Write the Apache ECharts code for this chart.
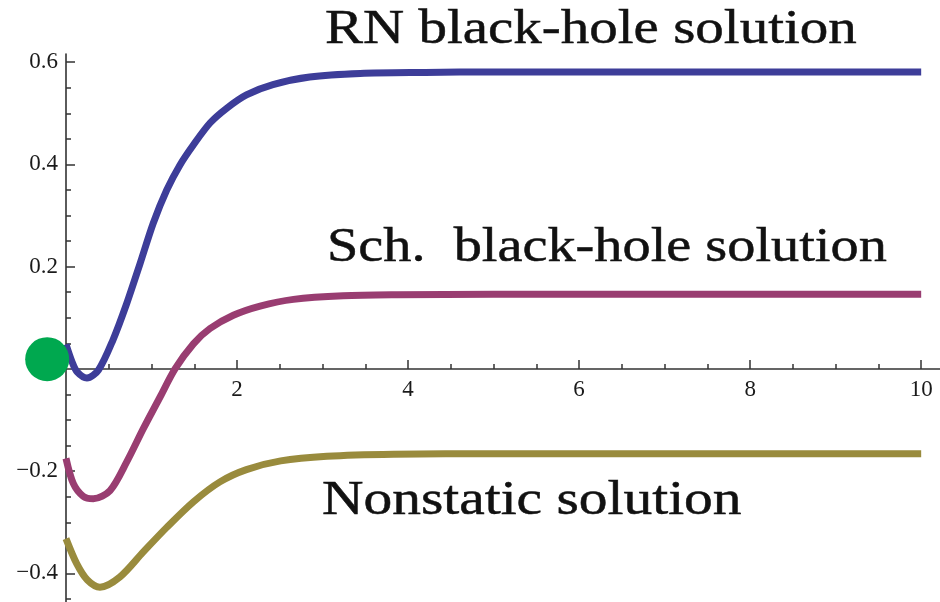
<!DOCTYPE html>
<html>
<head>
<meta charset="utf-8">
<script src="https://cdn.jsdelivr.net/npm/echarts@6/dist/echarts.min.js"></script>
<style>
  html, body { margin: 0; padding: 0; background: #fff; }
  #chart { width: 940px; height: 602px; }
</style>
</head>
<body>
<div id="chart"></div>
<script>
// Solution profiles: [x, value] pairs along each curve
const rnSolution = [
  [0, 0.048], [0.07, 0.014], [0.13, -0.006], [0.245, -0.018], [0.38, -0.002],
  [0.55, 0.057], [0.71, 0.128], [0.866, 0.206], [1.02, 0.285], [1.178, 0.35],
  [1.333, 0.399], [1.489, 0.438], [1.684, 0.481], [1.88, 0.51], [2.11, 0.536],
  [2.42, 0.556], [2.85, 0.571], [3.44, 0.578], [4.2, 0.58], [5, 0.581],
  [6, 0.581], [7, 0.581], [8, 0.581], [9, 0.581], [10, 0.581]
];
const schSolution = [
  [0, -0.175], [0.085, -0.224], [0.2, -0.249], [0.32, -0.254], [0.515, -0.238],
  [0.71, -0.182], [0.904, -0.117], [1.1, -0.055], [1.275, 0], [1.49, 0.049],
  [1.684, 0.079], [1.957, 0.105], [2.27, 0.123], [2.66, 0.136], [3.24, 0.143],
  [3.87, 0.145], [5, 0.146], [6, 0.146], [7, 0.146], [8, 0.146], [9, 0.146], [10, 0.146]
];
const nonstaticSolution = [
  [0, -0.332], [0.125, -0.381], [0.25, -0.413], [0.397, -0.427], [0.63, -0.407],
  [0.904, -0.358], [1.178, -0.31], [1.49, -0.26], [1.8, -0.221], [2.11, -0.197],
  [2.51, -0.18], [3.05, -0.171], [3.83, -0.167], [5.04, -0.166], [6, -0.166],
  [7, -0.166], [8, -0.166], [9, -0.166], [10, -0.166]
];
// Marker dot near the origin
const originDot = [[-0.22, 0.019]];

// Axis ranges and ticks
const xRange = [0, 10.22];
const yRange = [-0.456, 0.616];
const xMajorTicks = [2, 4, 6, 8, 10];
const xMinorTicks = [0.5, 1, 1.5, 2.5, 3, 3.5, 4.5, 5, 5.5, 6.5, 7, 7.5, 8.5, 9, 9.5];
const yMajorTicks = [-0.4, -0.2, 0.2, 0.4, 0.6];
const yMinorTicks = [-0.45, -0.35, -0.3, -0.25, -0.15, -0.1, -0.05, 0.05, 0.1, 0.15,
                     0.25, 0.3, 0.35, 0.45, 0.5, 0.55];

const curveLabels = ['RN black-hole solution', 'Sch.  black-hole solution', 'Nonstatic solution'];
const curveColors = ['#3d3d99', '#993d71', '#998b3d'];

const axisColor = '#333';
const labelFont = { fontFamily: 'Liberation Serif', fontSize: 23, color: '#1a1a1a' };
const titleFont = '49px "Liberation Serif"';

// Plot area
const plotLeft = 66, plotTop = 54, plotHeight = 548;
// Pixel row of y = 0, used for the strip that carries the x tick labels
const zeroRow = plotHeight * yRange[1] / (yRange[1] - yRange[0]);

function fmt(v) {
  const s = Math.abs(v).toFixed(1);
  return v < 0 ? '\u2212' + s : s;
}

function lineSeries(name, data, color) {
  return {
    name: name, type: 'line', data: data, xAxisIndex: 0, yAxisIndex: 0,
    showSymbol: false, smooth: 0.3,
    lineStyle: { color: color, width: 7 }, z: 3, silent: true
  };
}

// Wide serif caption placed beside a curve
function caption(text, x, y, stretch) {
  return {
    type: 'text', x: x, y: y, scaleX: stretch, z: 10, silent: true,
    style: {
      text: text, font: titleFont, fill: '#111', stroke: '#111', lineWidth: 0.5,
      align: 'left', verticalAlign: 'middle', textAlign: 'left', textVerticalAlign: 'middle'
    }
  };
}

const chart = echarts.init(document.getElementById('chart'));
chart.setOption({
  animation: false,
  backgroundColor: '#fff',
  grid: [
    { left: plotLeft, right: 0, top: plotTop, height: plotHeight, containLabel: false, outerBoundsMode: 'none' },
    { left: plotLeft, right: 0, top: plotTop, height: zeroRow, containLabel: false, outerBoundsMode: 'none' }
  ],
  xAxis: [
    {
      type: 'value', min: xRange[0], max: xRange[1], position: 'bottom',
      axisLine: { onZero: true, lineStyle: { color: axisColor, width: 1.6 } },
      axisTick: { inside: true, length: 9, customValues: xMajorTicks, lineStyle: { color: axisColor, width: 1.5 } },
      axisLabel: { show: false },
      splitLine: { show: false }
    },
    {
      type: 'value', min: xRange[0], max: xRange[1], position: 'top',
      axisLine: { show: false, onZero: true },
      axisTick: { inside: false, length: 5, customValues: xMinorTicks, lineStyle: { color: axisColor, width: 1.5 } },
      axisLabel: { show: false },
      splitLine: { show: false }
    },
    {
      // tick labels sit just under the y = 0 line
      gridIndex: 1, type: 'value', min: xRange[0], max: xRange[1], position: 'bottom',
      axisLine: { show: false, onZero: false },
      axisTick: { show: false },
      axisLabel: Object.assign({ customValues: xMajorTicks, margin: 10, formatter: v => String(v) }, labelFont),
      splitLine: { show: false }
    }
  ],
  yAxis: [
    {
      type: 'value', min: yRange[0], max: yRange[1], position: 'left',
      axisLine: { onZero: true, lineStyle: { color: axisColor, width: 1.6 } },
      axisTick: { inside: true, length: 9, customValues: yMajorTicks, lineStyle: { color: axisColor, width: 1.5 } },
      axisLabel: Object.assign({ customValues: yMajorTicks, margin: 8, formatter: fmt }, labelFont),
      splitLine: { show: false }
    },
    {
      type: 'value', min: yRange[0], max: yRange[1], position: 'right',
      axisLine: { show: false, onZero: true },
      axisTick: { inside: false, length: 5, customValues: yMinorTicks, lineStyle: { color: axisColor, width: 1.5 } },
      axisLabel: { show: false },
      splitLine: { show: false }
    },
    {
      gridIndex: 1, type: 'value', min: 0, max: 1, show: false
    }
  ],
  series: [
    lineSeries(curveLabels[0], rnSolution, curveColors[0]),
    lineSeries(curveLabels[1], schSolution, curveColors[1]),
    lineSeries(curveLabels[2], nonstaticSolution, curveColors[2]),
    {
      type: 'scatter', data: originDot, xAxisIndex: 0, yAxisIndex: 0,
      symbol: 'circle', symbolSize: 44, clip: false, z: 5, silent: true,
      itemStyle: { color: '#00a84f', opacity: 1 }
    }
  ],
  graphic: [
    caption(curveLabels[0], 325, 30, 1.163),
    caption(curveLabels[1], 327, 248, 1.149),
    caption(curveLabels[2], 322, 501, 1.172)
  ]
});
</script>
</body>
</html>
